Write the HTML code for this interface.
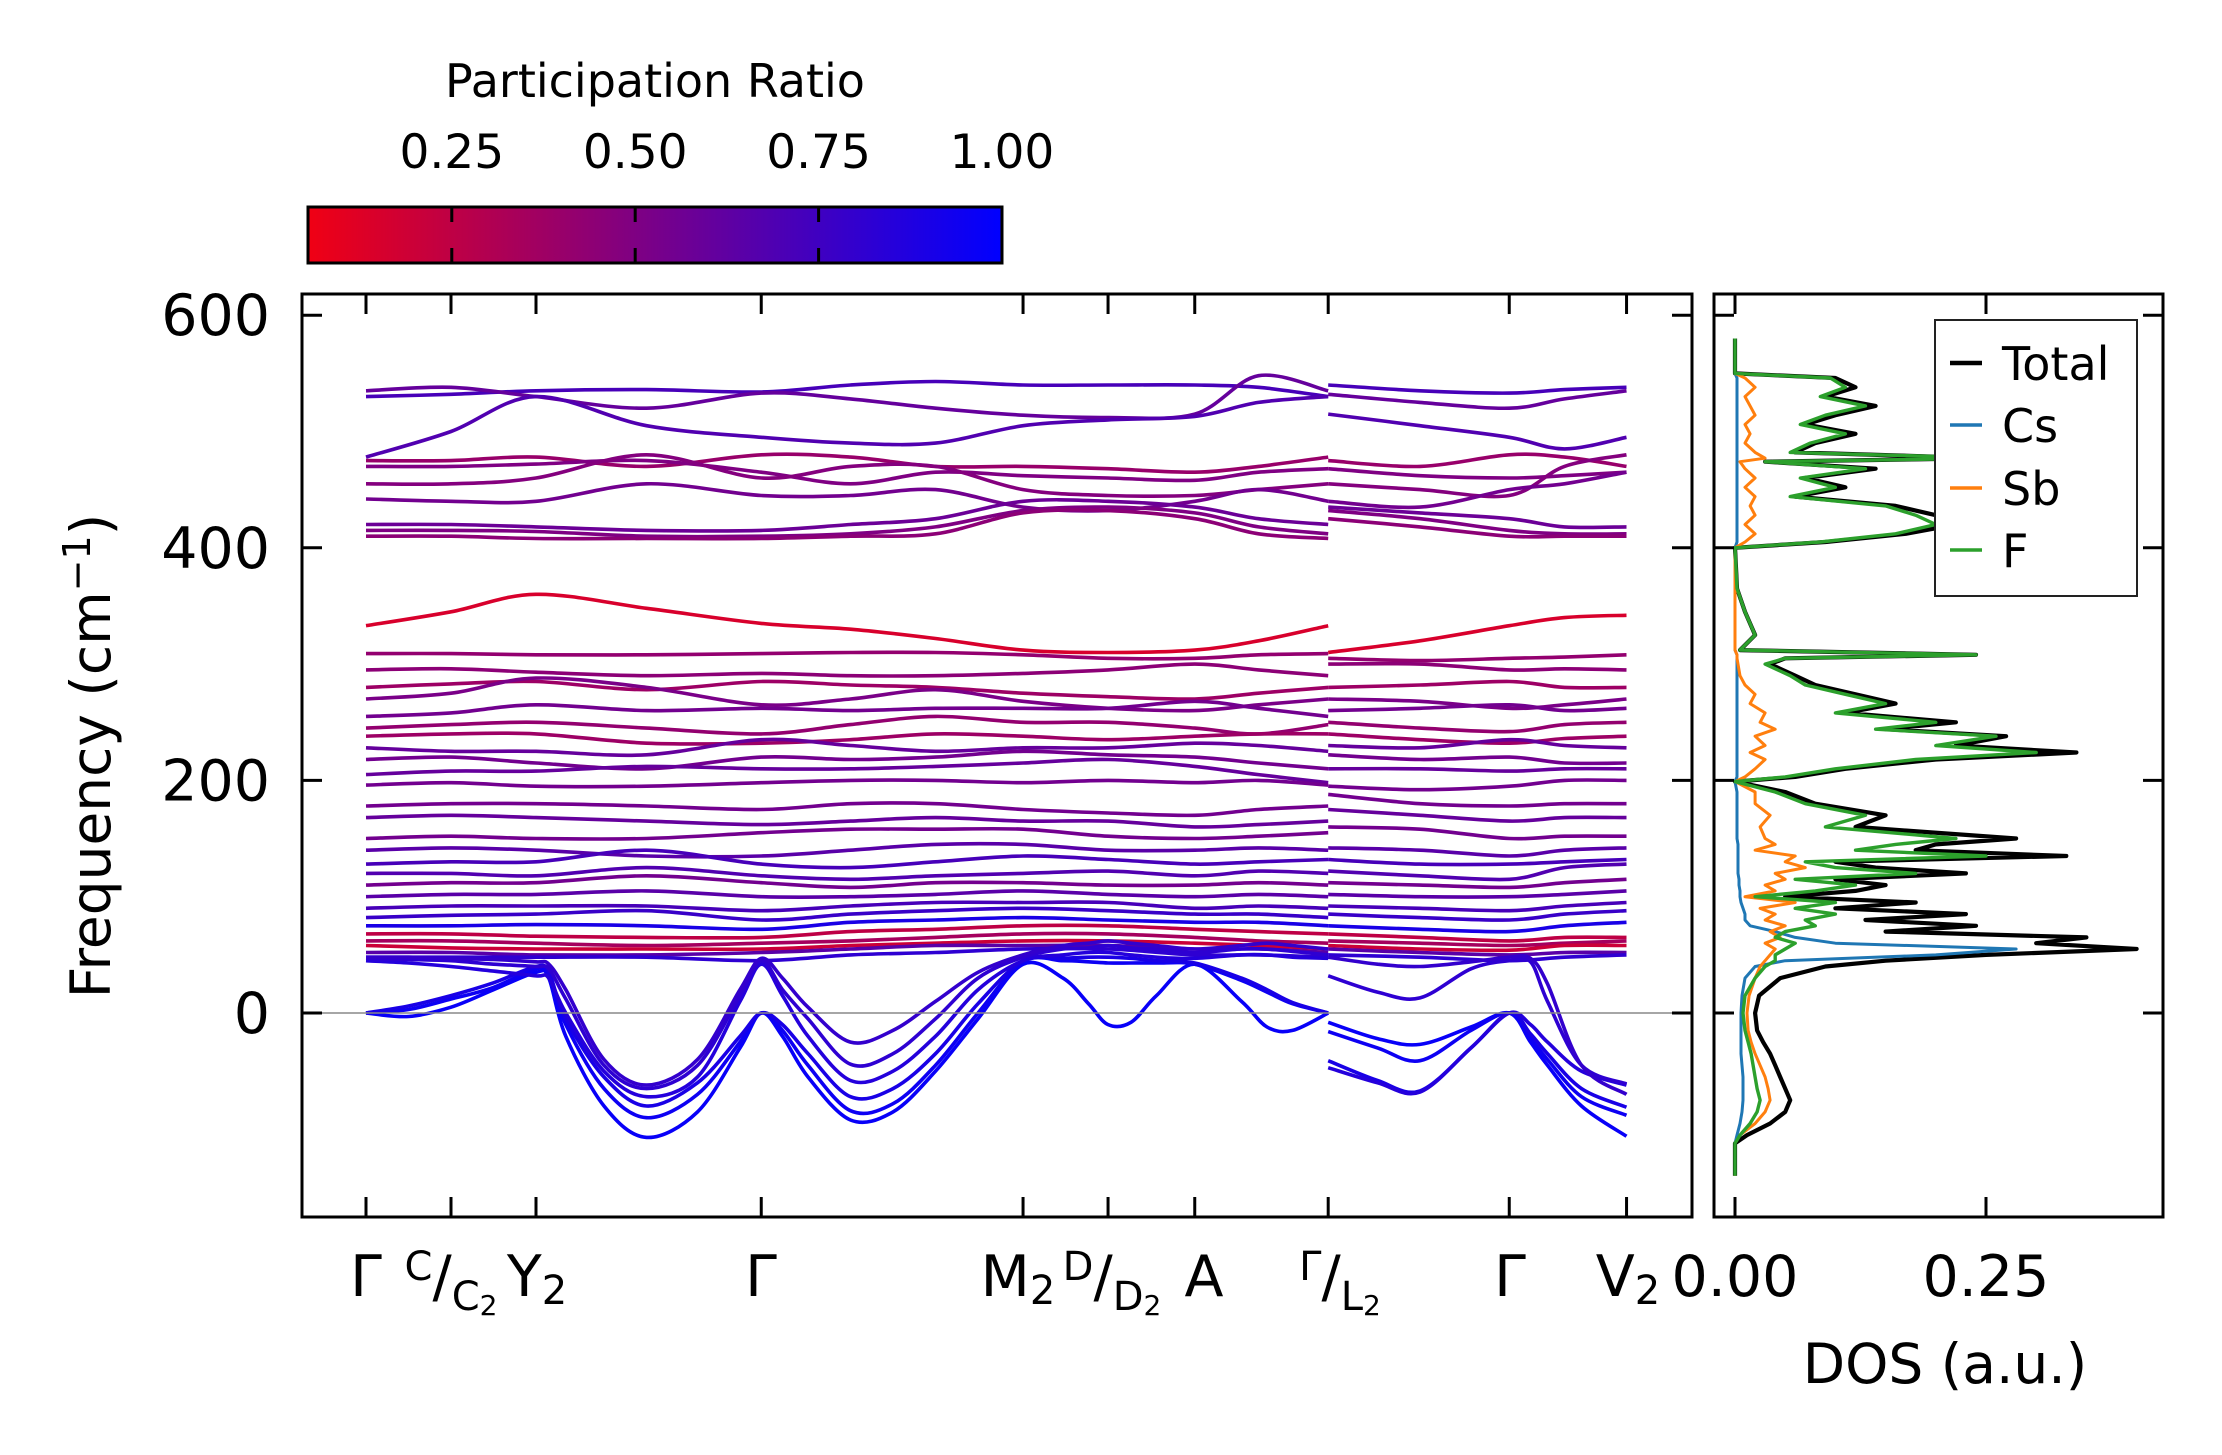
<!DOCTYPE html>
<html><head><meta charset="utf-8"><style>
html,body{margin:0;padding:0;background:#fff;}
svg{display:block;font-family:"DejaVu Sans","Liberation Sans",sans-serif;}
</style></head><body>
<svg id="fig" width="2222" height="1455" viewBox="0 0 2222 1455" xmlns="http://www.w3.org/2000/svg">
<defs>
<linearGradient id="cbgrad" x1="0" x2="1" y1="0" y2="0">
<stop offset="0" stop-color="rgb(240,0,20)"/><stop offset="1" stop-color="rgb(0,0,255)"/>
</linearGradient>
<clipPath id="bandclip"><rect x="302" y="294" width="1390" height="923"/></clipPath>
<clipPath id="dosclip"><rect x="1714" y="294" width="449" height="923"/></clipPath>
</defs>
<rect x="0" y="0" width="2222" height="1455" fill="#fff"/>
<g id="colorbar">
<rect x="308" y="207" width="694" height="56" fill="url(#cbgrad)" stroke="#000" stroke-width="3"/>
<text x="655" y="97" font-size="46" text-anchor="middle">Participation Ratio</text>
</g>
<g id="bands" clip-path="url(#bandclip)"></g>
<line x1="302" x2="1692" y1="1013" y2="1013" stroke="#888" stroke-width="1.5"/>
<g id="dos" clip-path="url(#dosclip)"></g>
<rect x="302" y="294" width="1390" height="923" fill="none" stroke="#000" stroke-width="3"/>
<rect x="1714" y="294" width="449" height="923" fill="none" stroke="#000" stroke-width="3"/>
<g id="ticks"></g>
<g id="xlabels" font-size="57" text-anchor="middle">
<text x="366" y="1296">Γ</text>
<text x="451" y="1296"><tspan font-size="40" dy="-16">C</tspan><tspan dy="16">/</tspan><tspan font-size="40" dy="14">C</tspan><tspan font-size="28" dy="5">2</tspan></text>
<text x="537" y="1296">Y<tspan font-size="40" dy="8">2</tspan></text>
<text x="761" y="1296">Γ</text>
<text x="1018" y="1296">M<tspan font-size="40" dy="8">2</tspan></text>
<text x="1112" y="1296"><tspan font-size="40" dy="-16">D</tspan><tspan dy="16">/</tspan><tspan font-size="40" dy="14">D</tspan><tspan font-size="28" dy="5">2</tspan></text>
<text x="1204" y="1296">A</text>
<text x="1340" y="1296"><tspan font-size="40" dy="-16">Γ</tspan><tspan dy="16">/</tspan><tspan font-size="40" dy="14">L</tspan><tspan font-size="28" dy="5">2</tspan></text>
<text x="1510" y="1296">Γ</text>
<text x="1628" y="1296">V<tspan font-size="40" dy="8">2</tspan></text>
</g>
<text x="110" y="756" font-size="55" text-anchor="middle" transform="rotate(-90 110 756)">Frequency (cm<tspan font-size="38" dy="-20">−1</tspan><tspan dy="20">)</tspan></text>
<text x="1945" y="1383" font-size="55" text-anchor="middle">DOS (a.u.)</text>
<g id="legend">
<rect x="1935" y="320" width="202" height="276" fill="#fff" stroke="#222" stroke-width="2"/>
</g>
</svg>
<script>
// ---------- band structure data ----------
const kTicks = [0,1,2,4.65,7.73,8.73,9.75,11.32,13.45,14.83];
const kCoarseA = [0,1,2,3.3,4.65,5.7,6.7,7.73,8.73,9.75,10.5,11.32];
const kCoarseB = [11.32,12.4,13.45,14.1,14.83];
const kFineA = [0,0.5,1,1.5,2,2.15,2.35,2.8,3.3,3.9,4.4,4.65,4.9,5.2,5.7,6.2,6.7,7.2,7.73,8.2,8.5,8.73,9.0,9.3,9.75,10.3,10.6,10.9,11.32];
const kFineB = [11.32,11.9,12.4,13.0,13.45,13.7,13.9,14.3,14.83];
const opticalBands = [
[530,532,535,536,534,540,543,540,540,540,538,530, 540,535,533,536,538],
[535,538,530,520,533,528,520,514,512,515,548,535, 532,525,520,528,535],
[478,500,530,505,495,490,490,505,510,513,525,530, 515,505,495,485,495],
[475,475,478,470,480,478,470,470,468,465,470,478, 475,470,480,478,470],
[470,470,472,475,465,455,465,462,460,458,465,468, 468,462,460,462,465],
[455,455,460,480,460,470,470,450,445,445,450,455, 455,450,445,470,480],
[442,440,440,455,445,445,450,435,432,440,450,440, 440,435,450,455,465],
[420,420,418,415,415,420,425,440,440,435,425,420, 435,430,425,418,418],
[415,415,414,410,410,412,418,432,435,430,418,412, 432,425,415,412,412],
[410,410,408,408,408,410,412,430,432,425,412,408, 425,418,410,410,410],
[333,345,360,348,335,330,322,312,310,312,320,333, 310,320,333,340,342],
[309,309,308,308,309,310,310,308,305,305,308,309, 305,303,305,306,308],
[295,296,293,290,292,290,290,292,295,300,295,290, 300,300,295,296,295],
[280,283,285,278,285,282,280,275,272,270,275,280, 280,282,285,280,280],
[270,275,288,280,265,270,278,268,262,260,265,270, 270,268,262,265,270],
[255,258,265,260,262,260,262,262,262,268,262,255, 260,262,265,260,262],
[245,248,250,245,240,248,255,250,250,245,240,248, 250,245,242,248,250],
[238,240,240,232,232,235,240,238,235,238,240,240, 240,235,232,236,238],
[228,225,225,222,235,230,225,228,228,232,230,225, 230,228,235,230,228],
[218,220,215,210,220,218,220,225,222,220,215,210, 222,218,220,215,215],
[205,208,208,212,210,210,212,215,218,212,205,198, 210,210,208,210,210],
[196,198,195,195,198,200,200,198,200,198,200,196, 195,192,195,200,200],
[178,180,180,178,175,180,180,175,172,170,175,178, 188,180,178,180,180],
[168,170,168,165,162,165,168,165,165,160,162,165, 175,170,165,168,168],
[150,152,150,150,155,158,158,158,152,150,152,155, 160,158,150,152,152],
[140,142,140,135,135,140,145,145,140,140,142,140, 142,140,135,140,142],
[128,130,130,140,128,125,130,135,132,128,130,132, 132,128,128,130,132],
[120,120,118,125,118,115,118,120,122,118,122,120, 122,118,115,125,128],
[110,112,112,118,112,108,112,112,110,110,112,110, 112,110,108,112,115],
[100,102,102,105,100,100,102,105,102,100,102,100, 102,100,100,102,105],
[90,92,92,92,88,92,95,95,95,90,92,90, 92,90,88,92,95],
[82,84,85,88,80,85,88,90,88,85,85,82, 85,82,80,85,88],
[75,75,76,75,72,78,80,82,80,78,78,75, 75,72,70,75,78],
[68,68,66,65,65,70,72,75,75,72,70,68, 68,65,62,65,65],
[62,62,60,58,60,62,65,68,68,65,62,60, 62,60,58,60,62],
[58,56,55,55,55,58,60,62,62,60,58,55, 58,55,54,58,58],
[52,52,50,50,52,55,58,58,58,55,55,52, 55,52,50,52,52],
[48,48,48,48,45,50,52,55,55,50,50,48, 50,48,45,48,50]
];
const opticalPR = [0.72,0.6,0.68,0.4,0.5,0.48,0.55,0.58,0.5,0.45,0.15,0.42,0.45,0.38,0.52,0.55,0.42,0.38,0.6,0.55,0.6,0.55,0.55,0.6,0.55,0.65,0.72,0.68,0.55,0.65,0.72,0.78,0.9,0.25,0.35,0.2,0.65,0.82];
const acousticBands = [
[0,-3,5,20,35,30,-20,-80,-107,-85,-30,0, -20,-55,-92,-85,-50,-5,42, 30,8,-10,-8,15,42, 10,-12,-15,0, -8,-22,-27,-12,0,-25,-45,-80,-106],
[0,3,12,22,38,32,-10,-65,-90,-70,-25,0, -15,-45,-84,-78,-45,0,44, 45,44,43,43,43,42, 28,18,8,0, -16,-30,-41,-15,0,-22,-40,-72,-88],
[0,6,15,26,40,35,-5,-55,-80,-60,-20,0, -10,-35,-72,-65,-35,8,45, 47,48,48,47,45,43, 30,20,9,0, -41,-58,-67,-30,0,-18,-35,-65,-81],
[45,43,40,36,32,30,0,-50,-72,-55,10,42, 15,-20,-58,-50,-20,20,45, 50,52,52,50,48,47, 50,50,48,47, -47,-60,-68,-30,0,-10,-25,-50,-62],
[47,46,45,42,40,38,12,-45,-65,-45,15,45, 20,-5,-44,-35,-5,30,48, 55,56,58,56,55,52, 55,55,53,50, 32,18,13,38,45,44,10,-45,-61],
[48,48,47,46,44,42,20,-40,-62,-40,20,47, 30,5,-25,-15,10,35,50, 58,60,62,60,58,55, 58,60,58,55, 48,42,40,44,48,47,25,-45,-70]
];
const acousticPR = [0.97,0.95,0.9,0.86,0.82,0.8];
// ---------- DOS data ----------
const dosFreq = [-140,-112,-105,-95,-85,-75,-65,-55,-45,-35,-25,-15,0,15,30,40,45,50,55,60,65,70,75,80,85,90,95,100,105,110,115,120,125,130,135,140,145,150,160,170,180,190,199,203,210,218,224,230,238,244,250,258,266,274,282,290,300,305,308,312,325,345,365,400,405,412,420,428,436,444,452,460,468,474,477,482,490,498,506,514,522,530,538,546,550,580];
const dosTotal = [0,0,0.012,0.035,0.05,0.055,0.05,0.045,0.04,0.035,0.028,0.022,0.02,0.024,0.045,0.09,0.15,0.25,0.40,0.30,0.35,0.15,0.24,0.13,0.23,0.10,0.18,0.05,0.12,0.15,0.10,0.23,0.14,0.10,0.33,0.18,0.20,0.28,0.12,0.15,0.08,0.05,0.0,0.06,0.11,0.20,0.34,0.22,0.27,0.15,0.22,0.11,0.16,0.12,0.08,0.06,0.035,0.05,0.24,0.005,0.02,0.01,0.002,0.0,0.09,0.17,0.22,0.20,0.16,0.06,0.11,0.07,0.14,0.03,0.25,0.06,0.08,0.12,0.07,0.10,0.14,0.09,0.12,0.10,0.0,0.0];
const dosCs = [0,0,0.002,0.005,0.007,0.008,0.008,0.008,0.007,0.006,0.006,0.006,0.006,0.007,0.01,0.02,0.05,0.20,0.28,0.10,0.06,0.04,0.015,0.01,0.01,0.008,0.006,0.005,0.005,0.004,0.004,0.003,0.003,0.003,0.003,0.003,0.003,0.002,0.002,0.002,0.002,0.002,0.0,0.002,0.002,0.002,0.002,0.002,0.002,0.002,0.002,0.002,0.002,0.002,0.002,0.002,0.002,0.002,0.002,0.0,0.0,0.0,0.0,0.0,0.002,0.002,0.002,0.002,0.002,0.002,0.002,0.002,0.002,0.002,0.002,0.002,0.002,0.002,0.002,0.002,0.002,0.002,0.002,0.002,0.0,0.0];
const dosSb = [0,0,0.005,0.02,0.03,0.035,0.033,0.03,0.025,0.02,0.016,0.013,0.012,0.014,0.02,0.025,0.03,0.035,0.04,0.03,0.045,0.035,0.05,0.03,0.04,0.025,0.06,0.01,0.04,0.03,0.05,0.04,0.07,0.05,0.06,0.02,0.04,0.03,0.025,0.035,0.02,0.02,0.0,0.01,0.02,0.03,0.015,0.03,0.02,0.04,0.025,0.03,0.015,0.02,0.01,0.005,0.003,0.002,0.002,0.0,0.0,0.0,0.0,0.0,0.01,0.02,0.01,0.02,0.015,0.02,0.01,0.02,0.01,0.005,0.03,0.02,0.01,0.015,0.01,0.02,0.015,0.01,0.02,0.01,0.0,0.0];
const dosF = [0,0,0.005,0.015,0.022,0.025,0.022,0.02,0.018,0.016,0.013,0.01,0.008,0.01,0.02,0.03,0.04,0.04,0.05,0.06,0.04,0.05,0.08,0.07,0.10,0.06,0.10,0.02,0.08,0.12,0.06,0.18,0.10,0.07,0.25,0.12,0.16,0.22,0.09,0.13,0.07,0.04,0.0,0.05,0.10,0.18,0.30,0.20,0.26,0.14,0.20,0.10,0.15,0.11,0.07,0.055,0.03,0.05,0.24,0.005,0.02,0.01,0.002,0.0,0.085,0.16,0.20,0.18,0.15,0.055,0.10,0.065,0.13,0.03,0.26,0.055,0.075,0.11,0.065,0.09,0.13,0.085,0.11,0.095,0.0,0.0];
const freqTicks = [0,200,400,600];
const freqTickLabels = ["0","200","400","600"];
const dosTicks = [0,0.25];
const dosTickLabels = ["0.00","0.25"];
const cbarTicks = [0.25,0.5,0.75,1.0];
const cbarTickLabels = ["0.25","0.50","0.75","1.00"];
const legendLabels = ["Total","Cs","Sb","F"];
const legendColors = ["#000000","#1f77b4","#ff7f0e","#2ca02c"];

// ---------- scales ----------
const NS = "http://www.w3.org/2000/svg";
const YB = 1217;
const xK = d => 366 + d*85;
const yF = f => 1013 - f*1.163;
const xD = v => 1735 + v*1004;
const CB0 = 0.054, CB1 = 1.0;
const xCB = v => 308 + (v-CB0)/(CB1-CB0)*694;
function prColor(pr){
  let t = (pr-CB0)/(CB1-CB0); t = Math.max(0,Math.min(1,t));
  return `rgb(${Math.round(240*(1-t))},0,${Math.round(20+235*t)})`;
}
function smoothPath(pts){
  let d = `M${pts[0][0].toFixed(1)},${pts[0][1].toFixed(1)}`;
  for(let i=0;i<pts.length-1;i++){
    const p0=pts[i-1]||pts[i], p1=pts[i], p2=pts[i+1], p3=pts[i+2]||pts[i+1];
    const c1x=p1[0]+(p2[0]-p0[0])/6, c1y=p1[1]+(p2[1]-p0[1])/6;
    const c2x=p2[0]-(p3[0]-p1[0])/6, c2y=p2[1]-(p3[1]-p1[1])/6;
    d += ` C${c1x.toFixed(1)},${c1y.toFixed(1)} ${c2x.toFixed(1)},${c2y.toFixed(1)} ${p2[0].toFixed(1)},${p2[1].toFixed(1)}`;
  }
  return d;
}
function mk(tag, attrs, parent){
  const el = document.createElementNS(NS, tag);
  for(const k in attrs) el.setAttribute(k, attrs[k]);
  parent.appendChild(el);
  return el;
}
const bandsG = document.getElementById('bands');
function drawBand(kA, kB, vals, pr, idx, kind){
  const nA = kA.length;
  const ptsA = kA.map((k,i)=>[xK(k), yF(vals[i])]);
  const ptsB = kB.map((k,i)=>[xK(k), yF(vals[nA+i])]);
  [ptsA, ptsB].forEach((pts, s)=>{
    const p = mk('path', {d: smoothPath(pts), fill:'none', stroke: prColor(pr), 'stroke-width': 3.6, 'stroke-linejoin':'round'}, bandsG);
    
    
  });
}
opticalBands.forEach((b,i)=>drawBand(kCoarseA, kCoarseB, b, opticalPR[i], i, 'optical'));
acousticBands.forEach((b,i)=>drawBand(kFineA, kFineB, b, acousticPR[i], i, 'acoustic'));

// DOS
const dosG = document.getElementById('dos');
const dosSeries = [dosTotal, dosCs, dosSb, dosF];
const dosWidths = [4.2, 3, 3, 3.4];
dosSeries.forEach((arr, s)=>{
  const pts = dosFreq.map((f,i)=>`${xD(arr[i]).toFixed(1)},${yF(f).toFixed(1)}`).join(' ');
  const pl = mk('polyline', {points: pts, fill:'none', stroke: legendColors[s], 'stroke-width': dosWidths[s], 'stroke-linejoin':'round'}, dosG);
  
  
});

// ticks
const tg = document.getElementById('ticks');
const TL = 20;
function tick(x1,y1,x2,y2,name){
  const l = mk('line',{x1,y1,x2,y2,stroke:'#000','stroke-width':3},tg);
  
  
}
freqTicks.forEach((f,i)=>{
  const y = yF(f);
  tick(302,y,302+TL,y,'band-ytick-left');
  tick(1692,y,1692-TL,y,'band-ytick-right');
  tick(1714,y,1714+TL,y,'dos-ytick-left');
  tick(2163,y,2163-TL,y,'dos-ytick-right');
  const t = mk('text',{x:270,y:y+20,'font-size':57,'text-anchor':'end'},tg);
  t.textContent = freqTickLabels[i];
  
  
});
kTicks.forEach(k=>{
  const x = xK(k);
  tick(x,YB,x,YB-TL,'k-tick-bottom');
  tick(x,294,x,294+TL,'k-tick-top');
});
dosTicks.forEach((v,i)=>{
  const x = xD(v);
  tick(x,YB,x,YB-TL,'dos-xtick-bottom');
  tick(x,294,x,294+TL,'dos-xtick-top');
  const t = mk('text',{x:x,y:1296,'font-size':57,'text-anchor':'middle'},tg);
  t.textContent = dosTickLabels[i];
  
  
});
// colorbar ticks
const cbG = document.getElementById('colorbar');
cbarTicks.forEach((v,i)=>{
  const x = xCB(v);
  if(v < 0.999){
    const a = mk('line',{x1:x,y1:207,x2:x,y2:222,stroke:'#000','stroke-width':3},cbG);
    
    
    const b = mk('line',{x1:x,y1:263,x2:x,y2:248,stroke:'#000','stroke-width':3},cbG);
    
    
  }
  const t = mk('text',{x:x,y:168,'font-size':47,'text-anchor':'middle'},cbG);
  t.textContent = cbarTickLabels[i];
  
  
});
// legend
const lg = document.getElementById('legend');
const legY = [363,425,488,550];
legendLabels.forEach((lab,i)=>{
  const l = mk('line',{x1:1950,x2:1982,y1:legY[i],y2:legY[i],stroke:legendColors[i],'stroke-width':i===0?4.5:3.5},lg);
  
  
  const t = mk('text',{x:2002,y:legY[i]+17,'font-size':46},lg);
  t.textContent = lab;
  
  
});
</script>
</body></html>
